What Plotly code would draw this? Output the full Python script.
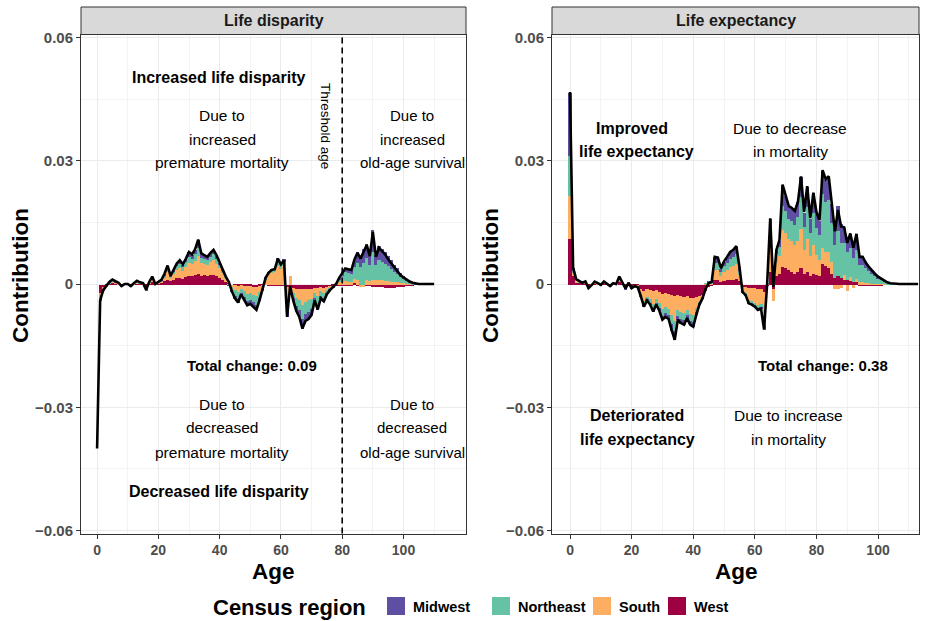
import plotly.graph_objects as go

# ---------------- data (values in units of 1e-4) ----------------
SCALE = 1e-4
regions = ["Midwest", "Northeast", "South", "West"]
region_colors = {"Midwest": "#5E4FA2", "Northeast": "#66C2A5", "South": "#FDAE61", "West": "#9E0142"}

ages_left = list(range(0, 111))
ld_west = [0, -20, -8, -3, 2, 4, 2, 1, -2, 0,
           1, -2, 1, 3, 2, 1, -4, 2, 6, 1,
           3, 4, 8, 12, 8, 12, 15, 17, 14, 18,
           20, 20, 22, 25, 20, 22, 20, 23, 24, 20,
           15, 10, 6, 3, 0, -2, -3, -1, -3, -4,
           -3, -5, -5, -3, -2, -1, -2, -3, -3, -3,
           -4, -4, -5, -5, -8, -10, -10, -12, -12, -10,
           -10, -8, -9, -7, -8, -7, -6, -4, -3, -2,
           -2, -3, -2, -3, 3, -2, -2, -3, -3, -4,
           -5, -5, -6, -7, -8, -9, -9, -8, -7, -6,
           -5, -4, -3, -2, -1, 0, 0, 0, 0, 0, 0]
ld_south = [0, -5, -3, -1, 1, 3, 2, 1, -1, 0,
            -1, -1, 1, 3, 1, 1, -5, 2, 7, -1,
            2, 4, 10, 18, 8, 13, 20, 23, 20, 25,
            33, 30, 36, 45, 32, 28, 28, 32, 35, 30,
            24, 18, 10, 5, -6, -12, -15, -10, -14, -18,
            -17, -20, -23, -15, -6, 12, 22, 28, 30, 45,
            38, 44, -40, 20, -12, -22, -28, -38, -30, -28,
            -25, -12, -20, -10, -13, -7, -4, -2, 1, 5,
            6, 8, 6, 5, 10, 12, -5, -4, 10, 8,
            10, 10, 10, 10, 9, 8, 7, 6, 5, 4,
            3, 2, 1, 1, 0, 0, 0, 0, 0, 0, 0]
ld_northeast = [0, -10, -2, -1, 1, 2, 1, 1, -1, 0,
                0, -1, 0, 1, 1, 0, -3, 1, 3, 0,
                0, 1, 4, 8, 3, 6, 9, 10, 8, 11,
                14, 13, 15, 20, 13, 12, 11, 12, 14, 12,
                8, 5, 2, -2, -8, -13, -17, -9, -14, -18,
                -17, -18, -21, -14, -5, 3, 5, 6, 6, 12,
                9, 11, -22, -12, -12, -20, -25, -35, -30, -28,
                -25, -12, -20, -11, -13, -7, -3, -1, 1, 8,
                14, 22, 21, 20, 30, 40, 42, 52, 55, 40,
                70, 38, 50, 45, 42, 36, 30, 25, 20, 14,
                11, 8, 5, 3, 1, 0, 0, 0, 0, 0, 0]
ld_midwest = [0, -5, -2, 0, 1, 2, 1, 0, -1, 0,
              0, -1, 0, 1, 0, 0, -2, 0, 2, 0,
              0, 1, 3, 7, 1, 4, 6, 8, 6, 8,
              11, 9, 12, 18, 10, 8, 7, 9, 10, 8,
              5, 3, 0, -1, -4, -8, -10, -5, -9, -12,
              -11, -12, -14, -8, -2, 1, 3, 3, 3, 8,
              5, 7, -13, -8, -8, -13, -17, -23, -18, -19,
              -15, -8, -13, -7, -8, -4, -2, -1, 1, 4,
              7, 11, 11, 12, 17, 26, 27, 35, 33, 24,
              52, 23, 34, 32, 29, 25, 22, 17, 14, 10,
              7, 4, 3, 1, 1, 0, 0, 0, 0, 0, 0]
ld_total = [-400, -40, -15, -5, 5, 11, 6, 3, -5, 0,
            0, -5, 2, 8, 4, 2, -14, 5, 18, 0,
            5, 10, 25, 45, 20, 35, 50, 58, 48, 62,
            78, 72, 85, 108, 75, 70, 66, 76, 83, 70,
            52, 36, 18, 5, -18, -35, -45, -25, -40, -52,
            -48, -55, -63, -40, -15, 15, 28, 34, 36, 62,
            48, 58, -80, -5, -40, -65, -80, -108, -90, -85,
            -75, -40, -62, -35, -42, -25, -15, -8, 0, 15,
            25, 38, 36, 34, 60, 76, 62, 80, 95, 68,
            127, 66, 88, 80, 72, 60, 50, 40, 32, 22,
            16, 10, 6, 3, 1, 0, 0, 0, 0, 0, 0]

ages_right = list(range(0, 114))
le_west = [110, 20, 6, 4, 2, 3, -4, -1, 3, 1,
           -1, 3, 1, -2, 1, 0, 7, 2, -4, 1,
           -4, -2, -3, -12, -15, -12, -14, -17, -14, -18,
           -22, -20, -22, -25, -28, -25, -27, -30, -28, -32,
           -33, -30, -28, -25, -15, -5, -3, 10, 10, 6,
           8, 10, 12, 12, 14, 8, -5, -6, -8, -8,
           -9, -10, -10, -18, -3, 30, -10, 20, 25, 42,
           40, 35, 30, 25, 30, 40, 25, 30, 20, 25,
           22, 20, 50, 45, 40, 25, 15, 20, 15, 12,
           10, 8, 5, 5, -3, -4, -4, -4, -3, -3,
           -2, -2, -1, -1, 0, 0, 0, 0, 0, 0,
           0, 0, 0, 0]
le_south = [106, 8, 3, 2, 1, 2, -3, -1, 2, 1,
            -1, 2, 0, -2, 1, 0, 6, 2, -4, 1,
            -3, -2, -3, -10, -25, -18, -22, -30, -22, -28,
            -38, -35, -37, -50, -60, -38, -40, -40, -33, -40,
            -42, -28, -15, -8, 2, 3, 2, 25, 25, 15,
            22, 26, 30, 32, 35, 16, -12, -17, -30, -32,
            -35, -40, -38, -60, 2, 60, -30, 35, 45, 90,
            85, 75, 75, 70, 75, 95, 60, 80, 50, 70,
            50, 40, 40, 35, 40, 30, -10, -12, -8, 10,
            -15, 10, -8, 8, 6, 5, 4, 3, 2, 2,
            1, 1, 1, 0, 0, 0, 0, 0, 0, 0,
            0, 0, 0, 0]
le_northeast = [97, 6, 2, 1, 0, 1, -2, -1, 1, 0,
                0, 1, 0, -1, 0, 0, 3, 1, -2, 1,
                -2, -1, -1, -5, -9, -6, -8, -12, -8, -11,
                -16, -15, -16, -22, -26, -14, -16, -17, -13, -16,
                -17, -10, -4, -1, 1, 3, 5, 18, 17, 10,
                15, 17, 20, 22, 24, 10, -1, -3, -6, -6,
                -7, -8, -8, -20, 1, 45, 20, 18, 22, 60,
                55, 50, 50, 50, 60, 77, 55, 78, 55, 80,
                65, 60, 130, 120, 125, 95, 80, 110, 85, 78,
                70, 70, 60, 72, 42, 43, 35, 29, 23, 18,
                13, 10, 6, 4, 2, 1, 0, 0, 0, 0,
                0, 0, 0, 0]
le_midwest = [154, 6, 1, 1, 0, 0, -1, 0, 0, 0,
              0, 0, 0, 0, 0, 0, 2, 0, -1, 0,
              -1, 0, -1, -3, -6, -4, -6, -8, -6, -8,
              -11, -10, -10, -15, -22, -10, -12, -12, -9, -11,
              -12, -7, -3, -1, 0, 1, 1, 13, 12, 7,
              10, 13, 16, 17, 19, 8, -1, -1, -3, -4,
              -4, -5, -4, -12, 0, 25, 13, 10, 15, 50,
              35, 30, 30, 33, 35, 50, 35, 50, 35, 47,
              38, 35, 57, 55, 57, 45, 43, 62, 48, 38,
              35, 35, 31, 37, 21, 22, 17, 14, 10, 8,
              6, 4, 2, 1, 0, 0, 0, 0, 0, 0,
              0, 0, 0, 0]
le_total = [467, 40, 12, 8, 3, 6, -10, -3, 6, 2,
            -2, 6, 1, -5, 2, 0, 18, 5, -11, 3,
            -10, -5, -8, -30, -55, -40, -50, -67, -50, -65,
            -87, -80, -85, -112, -136, -87, -95, -99, -83, -99,
            -104, -75, -50, -35, -12, 2, 5, 66, 64, 38,
            55, 66, 78, 83, 92, 42, -19, -27, -47, -50,
            -55, -63, -60, -110, 0, 160, -7, 83, 107, 242,
            215, 190, 185, 178, 200, 262, 175, 238, 160, 222,
            175, 155, 277, 255, 262, 195, 128, 180, 140, 138,
            100, 123, 88, 122, 66, 66, 52, 42, 32, 25,
            18, 13, 8, 4, 2, 1, 0, 0, 0, 0,
            0, 0, 0, 0]

y_ticks = [-0.06, -0.03, 0, 0.03, 0.06]
y_tick_labels = ["\u22120.06", "\u22120.03", "0", "0.03", "0.06"]
x_ticks = [0, 20, 40, 60, 80, 100]
threshold_age = 80

# ---------------- layout helpers ----------------
W, H = 931, 621
def px(x):
    return x / W
def py(y):
    return 1 - y / H

FONT = "Liberation Sans, Arial, sans-serif"
fig = go.Figure()

panels = [
    ("x", "y", ages_left, {"West": ld_west, "South": ld_south, "Northeast": ld_northeast, "Midwest": ld_midwest}, ld_total),
    ("x2", "y2", ages_right, {"West": le_west, "South": le_south, "Northeast": le_northeast, "Midwest": le_midwest}, le_total),
]
for xa, ya, ages, comp, total in panels:
    for reg in ["West", "South", "Northeast", "Midwest"]:
        fig.add_trace(go.Bar(x=ages, y=[v * SCALE for v in comp[reg]], xaxis=xa, yaxis=ya,
                             marker=dict(color=region_colors[reg], line=dict(width=0)),
                             width=1, showlegend=False, name=reg, hoverinfo="skip"))
    fig.add_trace(go.Scatter(x=ages, y=[v * SCALE for v in total], xaxis=xa, yaxis=ya, mode="lines",
                             line=dict(color="black", width=2.6), showlegend=False, hoverinfo="skip"))

ydom = [py(533.5), py(34.5)]
grid_major = "#EBEBEB"
grid_minor = "#F3F3F3"
common_x = dict(tickvals=x_ticks, ticks="outside", ticklen=4, tickcolor="#333333",
                showgrid=True, gridcolor=grid_major, gridwidth=1.1,
                minor=dict(tickvals=[10, 30, 50, 70, 90, 110], showgrid=True, gridcolor=grid_minor, gridwidth=0.6, ticks=""),
                showline=True, linecolor="#333333", linewidth=1, mirror=True, zeroline=False,
                tickfont=dict(family=FONT, size=14, color="#4D4D4D", weight="bold"))
common_y = dict(range=[-0.0607, 0.0607], tickvals=y_ticks, ticktext=y_tick_labels,
                ticks="outside", ticklen=4, tickcolor="#333333",
                showgrid=True, gridcolor=grid_major, gridwidth=1.1,
                minor=dict(tickvals=[-0.045, -0.015, 0.015, 0.045], showgrid=True, gridcolor=grid_minor, gridwidth=0.6, ticks=""),
                showline=True, linecolor="#333333", linewidth=1, mirror=True, zeroline=False,
                tickfont=dict(family=FONT, size=15, color="#4D4D4D", weight="bold"))

fig.update_layout(
    width=W, height=H, margin=dict(l=0, r=0, t=0, b=0, autoexpand=False),
    paper_bgcolor="white", plot_bgcolor="white",
    barmode="relative", bargap=0, showlegend=False,
    font=dict(family=FONT, color="black"),
    xaxis=dict(domain=[px(81), px(466)], range=[-5.25, 120.4], anchor="y", **common_x),
    yaxis=dict(domain=ydom, anchor="x", **common_y),
    xaxis2=dict(domain=[px(552), px(919)], range=[-5.85, 113.3], anchor="y2", **common_x),
    yaxis2=dict(domain=ydom, anchor="x2", **common_y),
)

shapes = []
annotations = []
# strips
for (x0, x1, label) in [(81, 466, "Life disparity"), (552, 919, "Life expectancy")]:
    shapes.append(dict(type="rect", xref="paper", yref="paper", x0=px(x0), x1=px(x1), y0=py(34.5), y1=py(7),
                       fillcolor="#D9D9D9", line=dict(color="#333333", width=1), layer="above"))
    annotations.append(dict(text="<b>" + label + "</b>", xref="paper", yref="paper", x=px((x0 + x1) / 2), y=py(20.5),
                            showarrow=False, font=dict(size=16, color="#1A1A1A"), xanchor="center", yanchor="middle"))
# threshold line
shapes.append(dict(type="line", xref="x", yref="paper", x0=threshold_age, x1=threshold_age, y0=ydom[0], y1=ydom[1],
                   line=dict(color="black", width=1.6, dash="6px,4px"), layer="above"))

def txt(s, x, y, size=15.5, bold=False, angle=0, anchor="center"):
    t = "<b>" + s + "</b>" if bold else s
    annotations.append(dict(text=t, xref="paper", yref="paper", x=px(x), y=py(y), showarrow=False,
                            font=dict(size=size, color="black", family=FONT), textangle=angle,
                            xanchor=anchor, yanchor="middle"))

# legend (drawn manually)
txt("Census region", 211, 607, 22, True, 0, "left")
legend_pos = {"Midwest": (387, 411), "Northeast": (492, 516), "South": (593, 617), "West": (668, 692)}
for reg in regions:
    kx, tx = legend_pos[reg]
    shapes.append(dict(type="rect", xref="paper", yref="paper", x0=px(kx), x1=px(kx + 18), y0=py(615), y1=py(597),
                       fillcolor=region_colors[reg], line=dict(width=0)))
    txt(reg, tx, 607, 14.5, True, 0, "left")

fig.update_layout(shapes=shapes)

# axis titles
txt("Contribution", 20, 276, 22.5, True, -90)
txt("Contribution", 490, 276, 22.5, True, -90)
txt("Age", 273, 571, 22.5, True)
txt("Age", 736, 571, 22.5, True)

# left panel texts
txt("Increased life disparity", 219, 77, 16, True)
for s, y in [("Due to", 116), ("increased", 139), ("premature mortality", 162)]:
    txt(s, 222, y)
for s, y in [("Due to", 116), ("increased", 139), ("old-age survival", 162)]:
    txt(s, 412, y, 15)
txt("Threshold age", 326, 126, 13.5, False, 90)
txt("Total change: 0.09", 252, 366, 15, True)
for s, y in [("Due to", 404), ("decreased", 428), ("premature mortality", 452)]:
    txt(s, 222, y)
for s, y in [("Due to", 404), ("decreased", 428), ("old-age survival", 452)]:
    txt(s, 412, y, 15)
txt("Decreased life disparity", 219, 491, 16, True)

# right panel texts
txt("Improved", 632, 128, 16, True)
txt("life expectancy", 636, 152, 16, True)
txt("Due to decrease", 790, 128)
txt("in mortality", 790, 152)
txt("Total change: 0.38", 823, 366, 15, True)
txt("Deteriorated", 637, 415, 16, True)
txt("life expectancy", 637, 439, 16, True)
txt("Due to increase", 788, 415)
txt("in mortality", 788, 439)

fig.update_layout(annotations=annotations)
fig.write_html("out.html", config={"displayModeBar": False},
               post_script="document.body.style.margin='0px';")
